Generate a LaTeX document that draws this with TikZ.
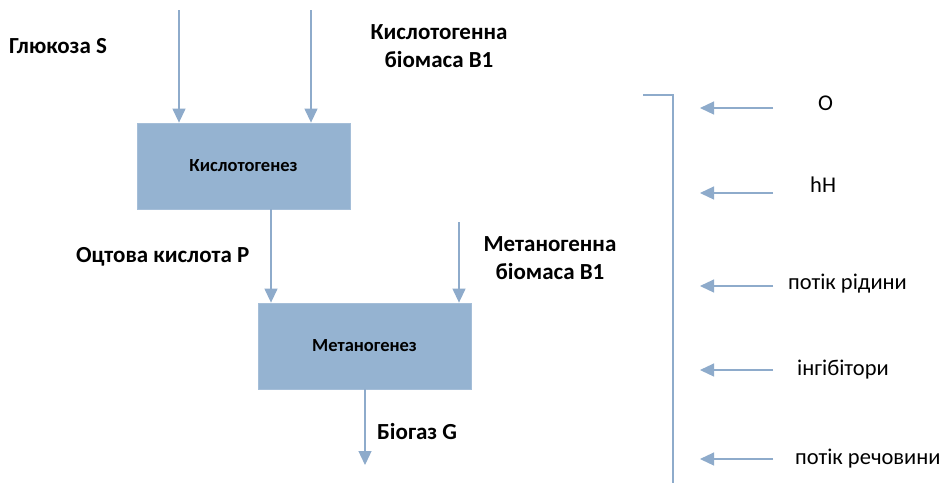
\documentclass[tikz,border=0pt]{standalone}
\usepackage{fontspec}
\setmainfont{Carlito}
\usetikzlibrary{arrows.meta}
\definecolor{boxfill}{HTML}{95B3D1}
\definecolor{flow}{HTML}{8EABCB}
\tikzset{
  stage/.style={fill=boxfill, draw=boxfill!85!white, line width=0.8pt, minimum width=213pt, minimum height=86pt, inner sep=0pt,
                font=\fontsize{18.5}{20}\selectfont\bfseries},
  flowarrow/.style={draw=flow, line width=1.2pt, -{Triangle[length=14pt,width=13pt]}},
  boldlabel/.style={font=\fontsize{23}{28}\selectfont\bfseries, align=center, inner sep=0pt},
  plainlabel/.style={font=\fontsize{22.5}{26}\selectfont, anchor=west, inner sep=0pt},
  bracket/.style={draw=flow, line width=1.2pt},
}
\begin{document}
\begin{tikzpicture}[x=1pt,y=-1pt]
\useasboundingbox[fill=white] (0,0) rectangle (941,483);

% process stages
\node[stage] (acid) at (243.5,166) {Кислотогенез};
\node[stage] (meth) at (364.5,346) {Метаногенез};

% free ends of the input and output flows
\coordinate (glucoseIn) at (179,10);
\coordinate (acidBioIn) at (311,10);
\coordinate (methBioIn) at (459,222);
\coordinate (gasOut) at (365,465);

\draw[flowarrow] (glucoseIn) -- (glucoseIn |- acid.north);
\draw[flowarrow] (acidBioIn) -- (acidBioIn |- acid.north);
\draw[flowarrow] (acid.south -| 271,0) -- (meth.north -| 271,0);
\draw[flowarrow] (methBioIn) -- (methBioIn |- meth.north);
\draw[flowarrow] (meth.south -| gasOut) -- (gasOut);

% flow labels
\node[boldlabel, anchor=west] (glucose) at (9,46) {Глюкоза S};
\node[boldlabel] (acidBio) at (439,46) {Кислотогенна\\біомаса B1};
\node[boldlabel, anchor=west] (acetic) at (76,257) {Оцтова кислота P};
\node[boldlabel] (methBio) at (550,258) {Метаногенна\\біомаса B1};
\node[boldlabel, anchor=west] (biogas) at (377,432) {Біогаз G};

% bracket collecting the external factors
\coordinate (brTop) at (643,95);
\coordinate (brCorner) at (673,95);
\coordinate (brBottom) at (673,483);
\draw[bracket] (brTop) -- (brCorner) -- (brBottom);

% external factors: label position and arrow height
\foreach \name/\y/\ay/\x/\txt in {fO/103/108/818/O, fH/185/193/810/hH, fLiquid/284/286/788/потік рідини, fInhib/370/370/797/інгібітори, fMatter/459/459/795/потік речовини}{
  \node[plainlabel] (\name) at (\x,\y) {\txt};
  \coordinate (\name s) at (773,\ay);
  \coordinate (\name e) at (700,\ay);
  \draw[flowarrow] (\name s) -- (\name e);
}
\end{tikzpicture}
\end{document}
